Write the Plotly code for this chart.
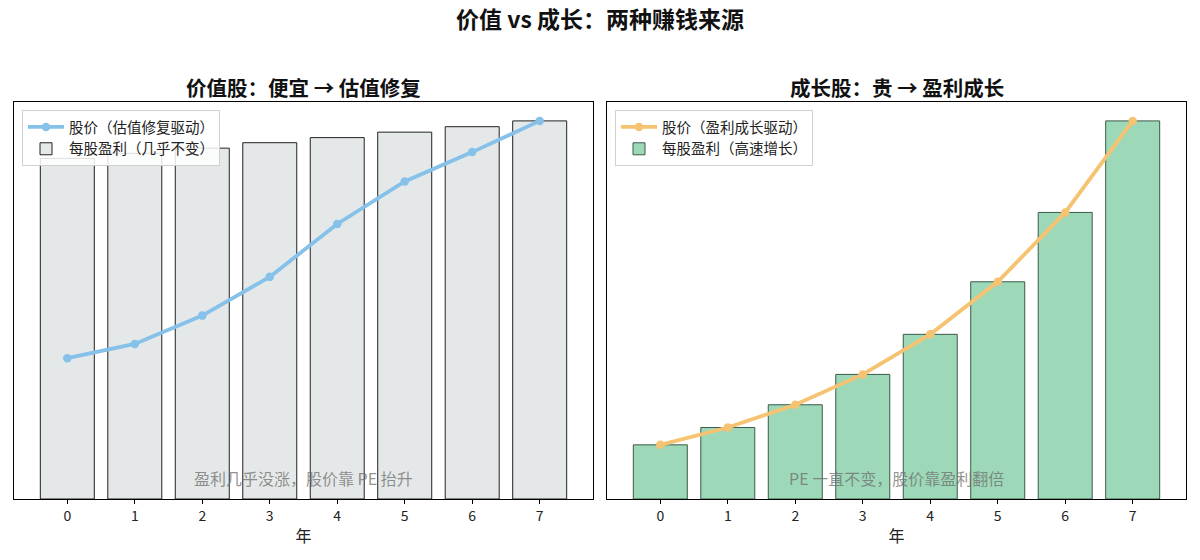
import plotly.graph_objects as go

years = [0, 1, 2, 3, 4, 5, 6, 7]
year_labels = ["0", "1", "2", "3", "4", "5", "6", "7"]

value_eps = [1.00, 1.015, 1.03, 1.046, 1.061, 1.077, 1.093, 1.110]
value_price = [7.45, 8.2, 9.7, 11.75, 14.55, 16.8, 18.35, 20.0]

growth_eps = [1.00, 1.32, 1.74, 2.30, 3.04, 4.01, 5.29, 6.98]
growth_price = [30.0, 39.6, 52.2, 69.0, 91.2, 120.3, 158.7, 209.4]

title_main = "价值 vs 成长：两种赚钱来源"
title_left = "价值股：便宜 → 估值修复"
title_right = "成长股：贵 → 盈利成长"
name_vp = "股价（估值修复驱动）"
name_ve = "每股盈利（几乎不变）"
name_gp = "股价（盈利成长驱动）"
name_ge = "每股盈利（高速增长）"
note_left = "盈利几乎没涨，股价靠 PE 抬升"
note_right = "PE 一直不变，股价靠盈利翻倍"
xlabel = "年"

FONT = "Noto Sans CJK SC, Noto Sans, sans-serif"
W, H = 1200, 560

def px_x(p):
    return p / W

def px_y(p):
    return 1 - p / H

dom_y = [px_y(499), px_y(102)]
dom_l = [px_x(14), px_x(593)]
dom_r = [px_x(607), px_x(1186)]

fig = go.Figure()

# Left panel
fig.add_trace(go.Scatter(
    x=years, y=value_price, name=name_vp, mode="lines+markers",
    line=dict(color="#85C1E9", width=3.8), marker=dict(size=8.5, color="#85C1E9"),
    xaxis="x", yaxis="y3", legend="legend"))
fig.add_trace(go.Bar(
    x=years, y=value_eps, name=name_ve, width=0.8,
    marker=dict(color="#E5E8E8", line=dict(color="#222222", width=1)),
    xaxis="x", yaxis="y", legend="legend"))

# Right panel
fig.add_trace(go.Scatter(
    x=years, y=growth_price, name=name_gp, mode="lines+markers",
    line=dict(color="#F5C371", width=3.8), marker=dict(size=8.5, color="#F5C371"),
    xaxis="x2", yaxis="y4", legend="legend2"))
fig.add_trace(go.Bar(
    x=years, y=growth_eps, name=name_ge, width=0.8,
    marker=dict(color="#9DD9B8", line=dict(color="#3B5A4A", width=1)),
    xaxis="x2", yaxis="y2", legend="legend2"))

xcommon = dict(range=[-0.79, 7.79], tickmode="array", tickvals=years, ticktext=year_labels,
               ticks="outside", ticklen=4, tickwidth=1, tickcolor="#000",
               showline=True, linecolor="#000", linewidth=1.2, mirror=True,
               showgrid=False, zeroline=False,
               tickfont=dict(family=FONT, size=14, color="#222"),
               title=dict(text=xlabel, font=dict(family=FONT, size=16, color="#222"), standoff=6))
ycommon = dict(showticklabels=False, ticks="", showgrid=False, zeroline=False,
               showline=True, linecolor="#000", linewidth=1.2, mirror=True, domain=dom_y)

legend_common = dict(xanchor="left", yanchor="top",
                     bgcolor="rgba(255,255,255,0.85)", bordercolor="#D0D0D0", borderwidth=1,
                     font=dict(family=FONT, size=14.5, color="#222"), traceorder="normal",
                     tracegroupgap=0, itemwidth=36)

fig.update_layout(
    width=W, height=H,
    margin=dict(l=0, r=0, t=0, b=0),
    paper_bgcolor="white", plot_bgcolor="white",
    barmode="overlay",
    font=dict(family=FONT, color="#222"),
    xaxis=dict(domain=dom_l, anchor="y", **xcommon),
    xaxis2=dict(domain=dom_r, anchor="y2", **xcommon),
    yaxis=dict(anchor="x", range=[0, max(value_eps) * 1.05], **ycommon),
    yaxis2=dict(anchor="x2", range=[0, max(growth_eps) * 1.05], **ycommon),
    yaxis3=dict(anchor="x", overlaying="y", range=[0, max(value_price) * 1.05],
                showticklabels=False, showgrid=False, zeroline=False, showline=False, domain=dom_y),
    yaxis4=dict(anchor="x2", overlaying="y2", range=[0, max(growth_price) * 1.05],
                showticklabels=False, showgrid=False, zeroline=False, showline=False, domain=dom_y),
    legend=dict(x=px_x(22), y=px_y(110), **legend_common),
    legend2=dict(x=px_x(615), y=px_y(110), **legend_common),
    showlegend=True,
)

annos = [
    dict(text="<b>" + title_main + "</b>", x=0.5, y=px_y(18), xref="paper", yref="paper",
         xanchor="center", yanchor="middle", showarrow=False,
         font=dict(family=FONT, size=23, color="#111")),
    dict(text="<b>" + title_left + "</b>", x=(dom_l[0] + dom_l[1]) / 2, y=px_y(87), xref="paper", yref="paper",
         xanchor="center", yanchor="middle", showarrow=False,
         font=dict(family=FONT, size=20.5, color="#111")),
    dict(text="<b>" + title_right + "</b>", x=(dom_r[0] + dom_r[1]) / 2, y=px_y(87), xref="paper", yref="paper",
         xanchor="center", yanchor="middle", showarrow=False,
         font=dict(family=FONT, size=20.5, color="#111")),
    dict(text=note_left, x=0.5, y=0.053, xref="x domain", yref="y domain",
         xanchor="center", yanchor="middle", showarrow=False,
         font=dict(family=FONT, size=16, color="rgba(110,110,110,0.75)")),
    dict(text=note_right, x=0.5, y=0.053, xref="x2 domain", yref="y2 domain",
         xanchor="center", yanchor="middle", showarrow=False,
         font=dict(family=FONT, size=16, color="rgba(110,110,110,0.75)")),
]
fig.update_layout(annotations=annos)

fig.write_html("out.html")
